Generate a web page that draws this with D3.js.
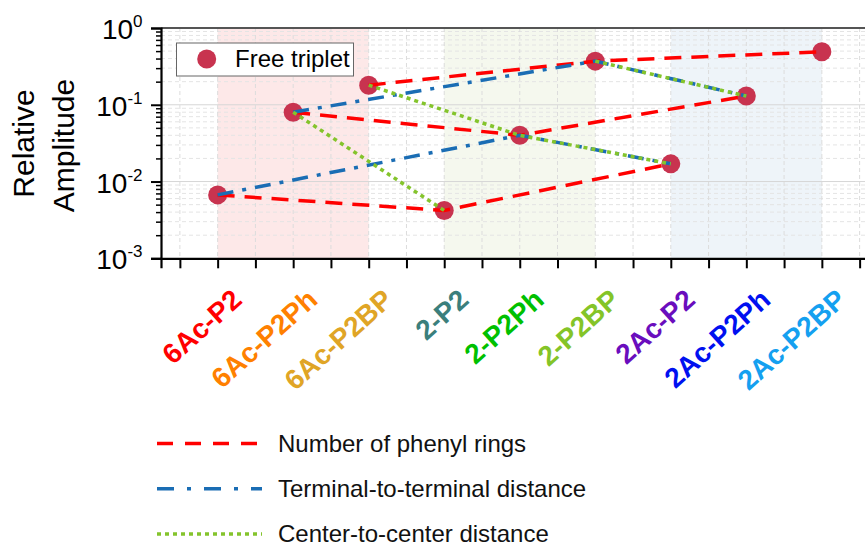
<!DOCTYPE html>
<html>
<head>
<meta charset="utf-8">
<script src="https://cdn.jsdelivr.net/npm/d3@7"></script>
<style>
  html, body { margin: 0; padding: 0; background: #fff; }
  svg { display: block; font-family: "Liberation Sans", Arial, sans-serif; }
</style>
</head>
<body>
<svg id="chart" width="865" height="546"></svg>
<script>
// Molecules along the x axis
const categories = ["6Ac-P2", "6Ac-P2Ph", "6Ac-P2BP", "2-P2", "2-P2Ph", "2-P2BP", "2Ac-P2", "2Ac-P2Ph", "2Ac-P2BP"];
const labelColors = ["#ff0000", "#ff8000", "#e0a526", "#3b7f7c", "#00c000", "#84c428", "#6a0dbd", "#0010f0", "#14a0f0"];

// Relative amplitude of the free triplet for each molecule
const freeTriplet = [0.0067, 0.080, 0.18, 0.0042, 0.040, 0.37, 0.017, 0.13, 0.49];

// Trend groupings (molecule names joined by each line style)
const phenylRings = [
  ["6Ac-P2", "2-P2", "2Ac-P2"],
  ["6Ac-P2Ph", "2-P2Ph", "2Ac-P2Ph"],
  ["6Ac-P2BP", "2-P2BP", "2Ac-P2BP"]
];
const terminalDistance = [
  ["6Ac-P2", "2-P2Ph", "2Ac-P2"],
  ["6Ac-P2Ph", "2-P2BP", "2Ac-P2Ph"]
];
const centerDistance = [
  ["6Ac-P2Ph", "2-P2"],
  ["6Ac-P2BP", "2-P2Ph", "2Ac-P2"],
  ["2-P2BP", "2Ac-P2Ph"]
];

// Shaded families (first and last molecule of each group)
const families = [
  { from: "6Ac-P2", to: "6Ac-P2BP", color: "#fde8e8" },
  { from: "2-P2", to: "2-P2BP", color: "#f5f8ee" },
  { from: "2Ac-P2", to: "2Ac-P2BP", color: "#eef4f9" }
];

const yMajorExponents = [-3, -2, -1, 0];

const svg = d3.select("#chart");
const plotTop = 28, plotBottom = 258.3, plotLeft = 161;

const x = d3.scaleLinear().domain([-0.75, 8.75]).range([plotLeft, 878.5]);
const y = d3.scaleLog().domain([1e-3, 1]).range([plotBottom, plotTop]);
const xi = name => x(categories.indexOf(name));
const yv = name => y(freeTriplet[categories.indexOf(name)]);

// background bands
svg.append("g").selectAll("rect").data(families).join("rect")
  .attr("x", d => xi(d.from)).attr("width", d => xi(d.to) - xi(d.from))
  .attr("y", plotTop).attr("height", plotBottom - plotTop)
  .attr("fill", d => d.color);

// grid
const minorVals = [];
yMajorExponents.slice(0, -1).forEach(e => { for (let k = 2; k <= 9; k++) minorVals.push(k * Math.pow(10, e)); });
const halfTicks = d3.range(-0.5, 8.51, 0.5);
const grid = svg.append("g");
grid.selectAll("line.minor").data(minorVals).join("line").attr("class", "minor")
  .attr("x1", plotLeft).attr("x2", 865).attr("y1", d => y(d)).attr("y2", d => y(d))
  .attr("stroke", "#e4e4e4").attr("stroke-width", 1).attr("stroke-dasharray", "4,3");
grid.selectAll("line.major").data(yMajorExponents.slice(1, -1)).join("line").attr("class", "major")
  .attr("x1", plotLeft).attr("x2", 865).attr("y1", d => y(Math.pow(10, d))).attr("y2", d => y(Math.pow(10, d)))
  .attr("stroke", "#d6d6d6").attr("stroke-width", 1);
grid.selectAll("line.vert").data(halfTicks).join("line").attr("class", "vert")
  .attr("x1", d => x(d)).attr("x2", d => x(d)).attr("y1", plotTop).attr("y2", plotBottom)
  .attr("stroke", "#dcdcdc").attr("stroke-width", 1).attr("stroke-dasharray", "4,3");

// frame top
svg.append("line").attr("x1", plotLeft).attr("x2", 865).attr("y1", plotTop).attr("y2", plotTop)
  .attr("stroke", "#555").attr("stroke-width", 2);

// axes
const xAxis = svg.append("g").attr("transform", `translate(0,${plotBottom})`)
  .call(d3.axisBottom(x).tickValues(halfTicks).tickSize(10).tickFormat(""));
xAxis.selectAll("line").attr("stroke", "#000").attr("stroke-width", 2);
xAxis.select(".domain").attr("stroke", "#000").attr("stroke-width", 2.2);

const yAxis = svg.append("g").attr("transform", `translate(${plotLeft},0)`)
  .call(d3.axisLeft(y).tickValues(yMajorExponents.map(e => Math.pow(10, e))).tickSize(10).tickFormat(""));
yAxis.selectAll("line").attr("stroke", "#000").attr("stroke-width", 2);
yAxis.select(".domain").attr("stroke", "#000").attr("stroke-width", 2.2);
const yMinor = svg.append("g").attr("transform", `translate(${plotLeft},0)`)
  .call(d3.axisLeft(y).tickValues(minorVals).tickSize(5).tickFormat(""));
yMinor.selectAll("line").attr("stroke", "#000").attr("stroke-width", 1.5);
yMinor.select(".domain").remove();

// y tick labels as 10^n
const yLab = svg.append("g").selectAll("text").data(yMajorExponents).join("text")
  .attr("x", 142.5).attr("y", d => y(Math.pow(10, d)) + 11)
  .attr("text-anchor", "end").attr("font-size", 28).attr("fill", "#000");
yLab.append("tspan").text("10");
yLab.append("tspan").attr("font-size", 17).attr("dy", -12).text(d => String(d));

// y title
const yTitle = svg.append("g");
yTitle.append("text").attr("transform", "translate(33.5,143.5) rotate(-90)")
  .attr("text-anchor", "middle").attr("font-size", 30).attr("fill", "#000").text("Relative");
yTitle.append("text").attr("transform", "translate(74,145.5) rotate(-90)")
  .attr("text-anchor", "middle").attr("font-size", 30).attr("fill", "#000").text("Amplitude");

// x category labels
svg.append("g").selectAll("text").data(categories).join("text")
  .attr("transform", (d, i) => `translate(${x(i) + 26},${302}) rotate(-42)`)
  .attr("text-anchor", "end").attr("font-size", 28).attr("font-weight", "bold")
  .attr("fill", (d, i) => labelColors[i]).text(d => d);

// markers
svg.append("g").selectAll("circle").data(freeTriplet).join("circle")
  .attr("cx", (d, i) => x(i)).attr("cy", d => y(d)).attr("r", 9.5)
  .attr("fill", "#c8334f");

// trend lines
const lineGen = d3.line().x(xi).y(yv);
const styles = {
  red: { color: "#ff0000", dash: "17,10", width: 3.5 },
  blue: { color: "#1a6db4", dash: "16,9,4,9", width: 3.5 },
  green: { color: "#84c42c", dash: "4,4", width: 3.5 }
};
function drawGroup(groups, s) {
  svg.append("g").selectAll("path").data(groups).join("path")
    .attr("d", lineGen).attr("fill", "none")
    .attr("stroke", s.color).attr("stroke-width", s.width).attr("stroke-dasharray", s.dash);
}
drawGroup(phenylRings, styles.red);
drawGroup(terminalDistance, styles.blue);
drawGroup(centerDistance, styles.green);

// legend: free triplet
const lg = svg.append("g");
lg.append("rect").attr("x", 176.5).attr("y", 43).attr("width", 177).attr("height", 33)
  .attr("fill", "#fff").attr("stroke", "#666").attr("stroke-width", 1);
lg.append("circle").attr("cx", 206.7).attr("cy", 59).attr("r", 9.5).attr("fill", "#c8334f");
lg.append("text").attr("x", 235).attr("y", 67).attr("font-size", 24).attr("fill", "#000").text("Free triplet");

// legend: trend lines
const lineLegend = [
  { label: "Number of phenyl rings", s: styles.red, dash: "16,12" },
  { label: "Terminal-to-terminal distance", s: styles.blue, dash: "17,13,4,13" },
  { label: "Center-to-center distance", s: styles.green, dash: "4,4" }
];
const ll = svg.append("g").selectAll("g").data(lineLegend).join("g")
  .attr("transform", (d, i) => `translate(0,${443.5 + i * 45.2})`);
ll.append("line").attr("x1", 157).attr("x2", 262).attr("y1", 0).attr("y2", 0)
  .attr("stroke", d => d.s.color).attr("stroke-width", 3.5).attr("stroke-dasharray", d => d.dash);
ll.append("text").attr("x", 278).attr("y", 8.5).attr("font-size", 24).attr("fill", "#111").text(d => d.label);
</script>
</body>
</html>
